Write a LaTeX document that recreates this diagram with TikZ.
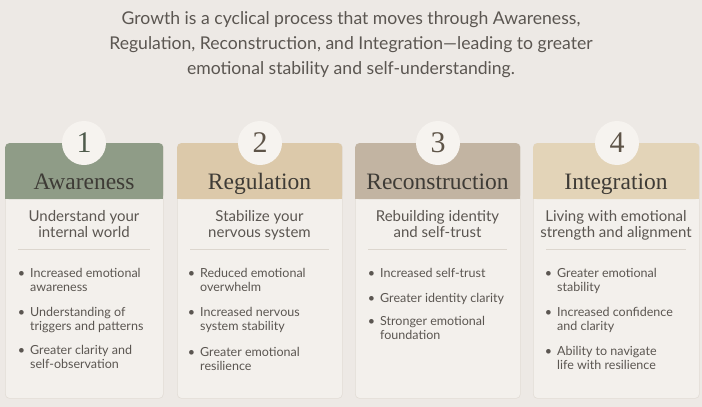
\documentclass[tikz,border=0pt]{standalone}
\usepackage{fontspec}
\setmainfont{Lato}
\newfontfamily\headfont{Liberation Serif}
\usetikzlibrary{positioning}

\definecolor{pagebg}{HTML}{EDE9E5}
\definecolor{cardfill}{HTML}{F3F0EC}
\definecolor{cardline}{HTML}{E2DDD6}
\definecolor{headA}{HTML}{8F9C87}
\definecolor{headB}{HTML}{DCC9AA}
\definecolor{headC}{HTML}{C2B4A2}
\definecolor{headD}{HTML}{E3D4B8}
\definecolor{circfill}{HTML}{F6F3EF}
\definecolor{txt}{HTML}{5B5651}
\definecolor{titletxt}{HTML}{3E3B36}
\definecolor{numA}{HTML}{4F5B4C}
\definecolor{numB}{HTML}{5E5448}
\definecolor{sepline}{HTML}{DCD6CE}

\newcommand{\bulletmark}{\llap{\textbullet\hspace{5pt}}}

\begin{document}
\begin{tikzpicture}[
    x=1pt, y=-1pt,
    card/.style={draw=cardline, fill=cardfill, line width=0.6pt, rounded corners=4pt,
        anchor=north west, minimum height=255pt, inner sep=0pt},
    header/.style={rounded corners=4pt, anchor=north west, minimum height=56pt, inner sep=0pt},
    numcirc/.style={circle, fill=circfill, minimum size=44pt, inner sep=0pt,
        font=\headfont\fontsize{30}{30}\selectfont},
    title/.style={anchor=base, text=titletxt, font=\headfont\fontsize{23.5}{23.5}\selectfont},
    subtitle/.style={anchor=north, align=center, text=txt, inner sep=0pt,
        font=\fontsize{15}{16.5}\selectfont},
    bul/.style={anchor=north west, align=left, text=txt, inner sep=0pt,
        font=\fontsize{12.5}{14.3}\selectfont},
    sep/.style={draw=sepline, line width=0.6pt}
]
\useasboundingbox (0,0) rectangle (702,407);
\fill[pagebg] (0,0) rectangle (702,407);

% intro text
\node[align=center, text=txt, font=\fontsize{17.6}{25}\selectfont] (intro) at (351,45)
    {Growth is a cyclical process that moves through Awareness,\\
     Regulation, Reconstruction, and Integration---leading to greater\\
     emotional stability and self-understanding.};

% card 1
\node[card, minimum width=158pt] (c1) at (5,143) {};
\node[header, fill=headA, minimum width=158pt] (h1) at (5,143) {};
\fill[headA] (h1.west) rectangle (h1.south east);
\node[numcirc, text=numA] (n1) at (84,143) {1};
\node[title] (t1) at (84,189) {Awareness};
\node[subtitle] (s1) at (84,210) {Understand your\\internal world};
\draw[sep] (18,249) -- (150,249);
\node[bul] (b11) at (30,268) {\bulletmark Increased emotional\\awareness};
\node[bul] (b12) at (30,307) {\bulletmark Understanding of\\triggers and patterns};
\node[bul] (b13) at (30,345) {\bulletmark Greater clarity and\\self-observation};

% card 2
\node[card, minimum width=165pt] (c2) at (177,143) {};
\node[header, fill=headB, minimum width=165pt] (h2) at (177,143) {};
\fill[headB] (h2.west) rectangle (h2.south east);
\node[numcirc, text=numB] (n2) at (260,143) {2};
\node[title] (t2) at (259.5,189) {Regulation};
\node[subtitle] (s2) at (259.5,210) {Stabilize your\\nervous system};
\draw[sep] (190,249) -- (329,249);
\node[bul] (b21) at (200,268) {\bulletmark Reduced emotional\\overwhelm};
\node[bul] (b22) at (200,307) {\bulletmark Increased nervous\\system stability};
\node[bul] (b23) at (200,347) {\bulletmark Greater emotional\\resilience};

% card 3
\node[card, minimum width=165pt] (c3) at (355,143) {};
\node[header, fill=headC, minimum width=165pt] (h3) at (355,143) {};
\fill[headC] (h3.west) rectangle (h3.south east);
\node[numcirc, text=numB] (n3) at (438,143) {3};
\node[title] (t3) at (437.5,189) {Reconstruction};
\node[subtitle] (s3) at (437.5,210) {Rebuilding identity\\and self-trust};
\draw[sep] (368,249) -- (507,249);
\node[bul] (b31) at (380,268) {\bulletmark Increased self-trust};
\node[bul] (b32) at (380,293) {\bulletmark Greater identity clarity};
\node[bul] (b33) at (380,316) {\bulletmark Stronger emotional\\foundation};

% card 4
\node[card, minimum width=166pt] (c4) at (533,143) {};
\node[header, fill=headD, minimum width=166pt] (h4) at (533,143) {};
\fill[headD] (h4.west) rectangle (h4.south east);
\node[numcirc, text=numB] (n4) at (617,143) {4};
\node[title] (t4) at (616,189) {Integration};
\node[subtitle] (s4) at (616,210) {Living with emotional\\strength and alignment};
\draw[sep] (546,249) -- (686,249);
\node[bul] (b41) at (557,268) {\bulletmark Greater emotional\\stability};
\node[bul] (b42) at (557,307) {\bulletmark Increased confidence\\and clarity};
\node[bul] (b43) at (557,346) {\bulletmark Ability to navigate\\life with resilience};
\end{tikzpicture}
\end{document}
